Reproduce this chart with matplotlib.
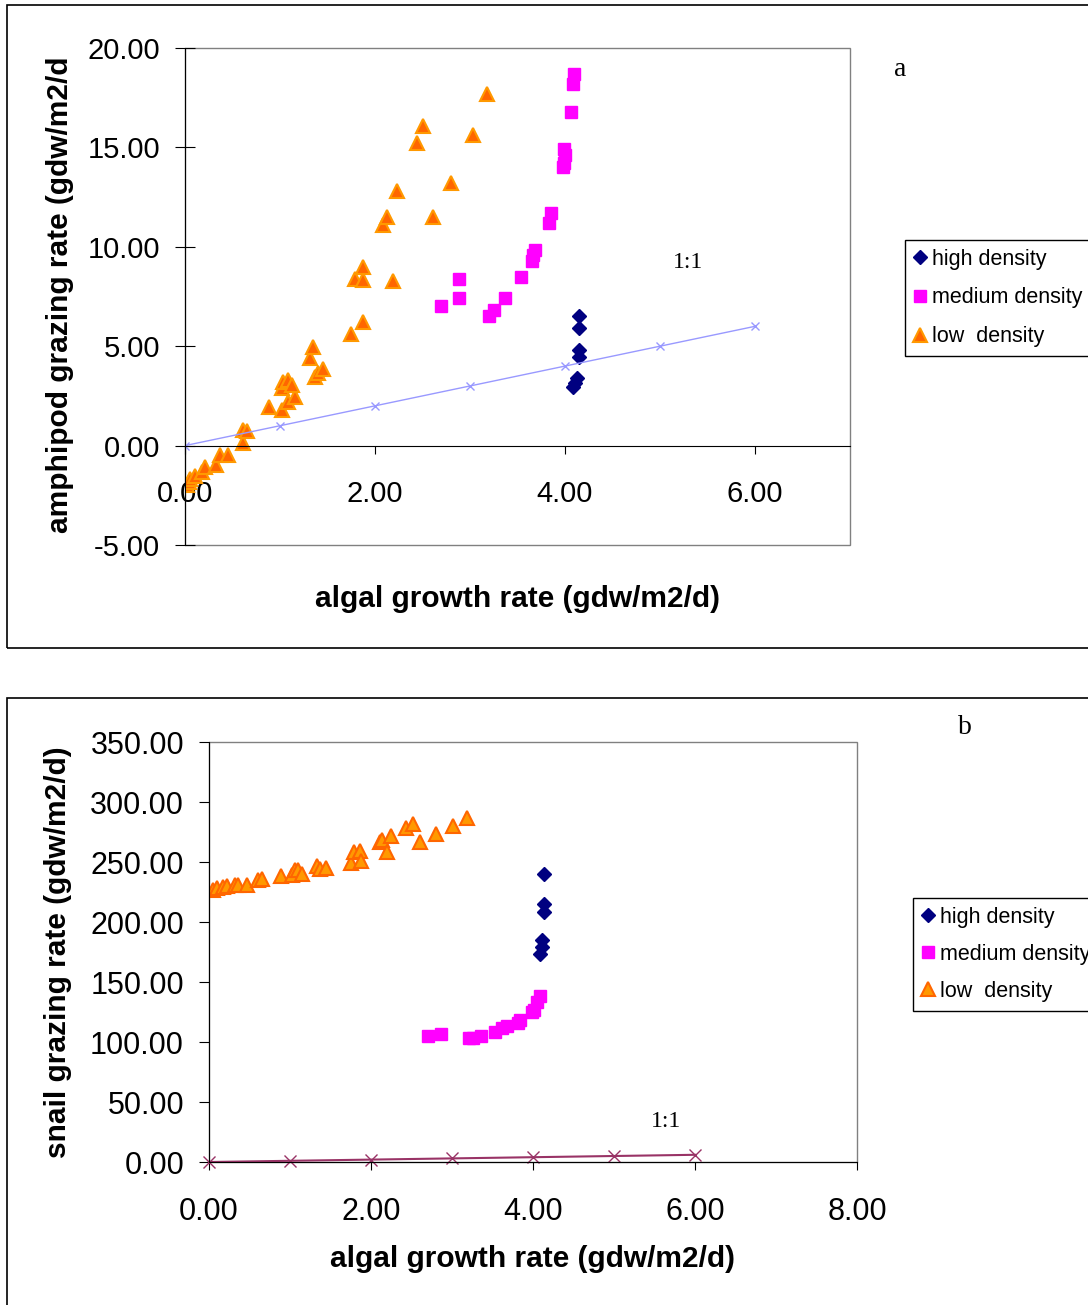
import matplotlib.pyplot as plt
from matplotlib.patches import Rectangle
from matplotlib.ticker import FormatStrFormatter

plt.rcParams["font.family"] = ["Liberation Sans", "DejaVu Sans"]

W, H = 1088, 1305

#Panel a data: amphipods
amph_high_x = [4.15, 4.15, 4.15, 4.15, 4.13, 4.10, 4.08]
amph_high_y = [6.5, 5.9, 4.8, 4.45, 3.4, 3.15, 2.95]

amph_med_x = [2.69, 2.88, 2.88, 3.20, 3.25, 3.37, 3.54, 3.65, 3.66, 3.68, 3.83, 3.85,
              3.98, 3.99, 4.00, 3.99, 4.06, 4.08, 4.09]
amph_med_y = [7.0, 7.4, 8.4, 6.5, 6.8, 7.4, 8.5, 9.3, 9.6, 9.85, 11.2, 11.7,
              14.0, 14.2, 14.6, 14.9, 16.8, 18.2, 18.7]

amph_low_x = [0.02, 0.04, 0.05, 0.10, 0.18, 0.21, 0.33, 0.37, 0.45, 0.61, 0.61, 0.65,
              0.88, 1.02, 1.08, 1.16, 1.02, 1.03, 1.08, 1.13, 1.37, 1.40, 1.45, 1.32,
              1.35, 1.75, 1.87, 1.79, 1.87, 1.87, 2.19, 2.08, 2.13, 2.23, 2.61, 2.80,
              2.44, 2.50, 3.03, 3.18]
amph_low_y = [-2.0, -1.85, -1.7, -1.55, -1.35, -1.1, -1.0, -0.45, -0.45, 0.15, 0.8, 0.75,
              1.96, 1.8, 2.2, 2.46, 2.9, 3.2, 3.3, 3.07, 3.47, 3.67, 3.87, 4.4,
              4.97, 5.6, 6.2, 8.4, 8.35, 9.0, 8.3, 11.1, 11.5, 12.8, 11.5, 13.2,
              15.2, 16.1, 15.6, 17.7]

#Panel b data: snails
snail_high_x = [4.14, 4.14, 4.14, 4.11, 4.11, 4.09]
snail_high_y = [240, 215, 208, 185, 179, 173]

snail_med_x = [2.70, 2.86, 3.21, 3.26, 3.36, 3.53, 3.62, 3.68, 3.81, 3.84, 3.99, 4.01, 4.05, 4.09]
snail_med_y = [105, 107, 103, 103, 105, 108, 112, 113, 116, 118, 125, 127, 133, 138]

snail_low_x = [0.05, 0.10, 0.17, 0.22, 0.32, 0.36, 0.47, 0.60, 0.65, 0.89, 1.02, 1.06,
               1.10, 1.15, 1.33, 1.37, 1.44, 1.75, 1.79, 1.86, 1.88, 2.11, 2.14, 2.20,
               2.25, 2.43, 2.52, 2.60, 2.80, 3.01, 3.19]
snail_low_y = [227, 228, 229, 230, 231, 231, 231, 235, 236, 238, 239, 243,
               243, 240, 247, 244, 245, 249, 258, 259, 251, 267, 268, 258,
               272, 278, 282, 267, 273, 280, 287]

#1:1 reference line
one_x = [0, 1, 2, 3, 4, 5, 6]
one_y = [0, 1, 2, 3, 4, 5, 6]

labels = ["high density", "medium density", "low  density"]
x_ticks_a = [0, 2, 4, 6]
y_ticks_a = [-5, 0, 5, 10, 15, 20]
x_ticks_b = [0, 2, 4, 6, 8]
y_ticks_b = [0, 50, 100, 150, 200, 250, 300, 350]


def px_box(left, top, right, bottom):
    return [left / W, 1 - bottom / H, (right - left) / W, (bottom - top) / H]


def style_axes(ax):
    ax.spines["top"].set_visible(False)
    ax.spines["right"].set_visible(False)
    ax.add_patch(Rectangle((0, 0), 1, 1, transform=ax.transAxes, fill=False,
                           edgecolor="#808080", linewidth=1, clip_on=False, zorder=0))
    ax.xaxis.set_major_formatter(FormatStrFormatter("%.2f"))
    ax.yaxis.set_major_formatter(FormatStrFormatter("%.2f"))


def add_legend(ax, left, top, spacing):
    leg = ax.legend(loc="upper left", bbox_to_anchor=(left / W, 1 - top / H),
                    bbox_transform=fig.transFigure, fancybox=False, edgecolor="black",
                    fontsize=15.5, handlelength=0.6, handletextpad=0.25, labelspacing=spacing,
                    borderpad=0.4, borderaxespad=0, numpoints=1, framealpha=1)
    leg.get_frame().set_linewidth(1)


fig = plt.figure(figsize=(W / 100, H / 100), dpi=100)

#Outer frames around both panels
fig.add_artist(Rectangle((7 / W, 1 - 648 / H), 1.0, (648 - 5) / H, transform=fig.transFigure,
                         fill=False, edgecolor="black", linewidth=1.2))
fig.add_artist(Rectangle((7 / W, -0.05), 1.0, 0.05 + 1 - 698 / H, transform=fig.transFigure,
                         fill=False, edgecolor="black", linewidth=1.2))

#Panel a
ax_a = fig.add_axes(px_box(185, 48, 850, 545))
ax_a.plot(amph_high_x, amph_high_y, "D", color="#000080", ms=7, ls="none", label=labels[0])
ax_a.plot(amph_med_x, amph_med_y, "s", color="#FF00FF", ms=9, ls="none", label=labels[1])
ax_a.plot(amph_low_x, amph_low_y, "^", mfc="#FF6600", mec="#FF9900", mew=1.5, ms=10,
          ls="none", label=labels[2])
ax_a.plot(one_x, one_y, "x-", color="#9999FF", lw=1, ms=6)

ax_a.set_xlim(0, 7)
ax_a.set_ylim(-5, 20)
ax_a.set_xticks(x_ticks_a)
ax_a.set_yticks(y_ticks_a)
style_axes(ax_a)
ax_a.spines["bottom"].set_position(("data", 0))
ax_a.tick_params(axis="x", direction="out", length=6, pad=19, labelsize=21)
ax_a.tick_params(axis="y", direction="inout", length=14, pad=11, labelsize=21)

ax_a.set_xlabel("algal growth rate (gdw/m2/d)", fontsize=21.5, fontweight="bold")
ax_a.xaxis.set_label_coords(0.5, -0.08)
ax_a.set_ylabel("amphipod grazing rate (gdw/m2/d", fontsize=21.5, fontweight="bold")
ax_a.yaxis.set_label_coords(-0.167, 0.503)

ax_a.text(5.3, 9.2, "1:1", family="Liberation Serif", fontsize=17, ha="center", va="center")
fig.text(900 / W, 1 - 69 / H, "a", family="Liberation Serif", fontsize=20, ha="center", va="center")
add_legend(ax_a, 905, 240, 0.83)

#Panel b
ax_b = fig.add_axes(px_box(209, 742, 857, 1162))
ax_b.plot(snail_high_x, snail_high_y, "D", color="#000080", ms=7, ls="none", label=labels[0])
ax_b.plot(snail_med_x, snail_med_y, "s", color="#FF00FF", ms=9, ls="none", label=labels[1])
ax_b.plot(snail_low_x, snail_low_y, "^", mfc="#FF9900", mec="#FF6600", mew=1.5, ms=10,
          ls="none", label=labels[2])
ax_b.plot(one_x, one_y, "x-", color="#993366", lw=1.5, ms=8, clip_on=False)

ax_b.set_xlim(0, 8)
ax_b.set_ylim(0, 350)
ax_b.set_xticks(x_ticks_b)
ax_b.set_yticks(y_ticks_b)
style_axes(ax_b)
ax_b.tick_params(axis="x", direction="out", length=6, pad=19, labelsize=22)
ax_b.tick_params(axis="y", direction="out", length=7, pad=11, labelsize=22)

ax_b.set_xlabel("algal growth rate (gdw/m2/d)", fontsize=21.5, fontweight="bold")
ax_b.xaxis.set_label_coords(0.5, -0.198)
ax_b.set_ylabel("snail grazing rate (gdw/m2/d)", fontsize=21.5, fontweight="bold")
ax_b.yaxis.set_label_coords(-0.212, 0.5)

ax_b.text(5.64, 34, "1:1", family="Liberation Serif", fontsize=17, ha="center", va="center")
fig.text(965 / W, 1 - 727 / H, "b", family="Liberation Serif", fontsize=20, ha="center", va="center")
add_legend(ax_b, 913, 898, 0.75)

fig.savefig("out.png", dpi=100)
